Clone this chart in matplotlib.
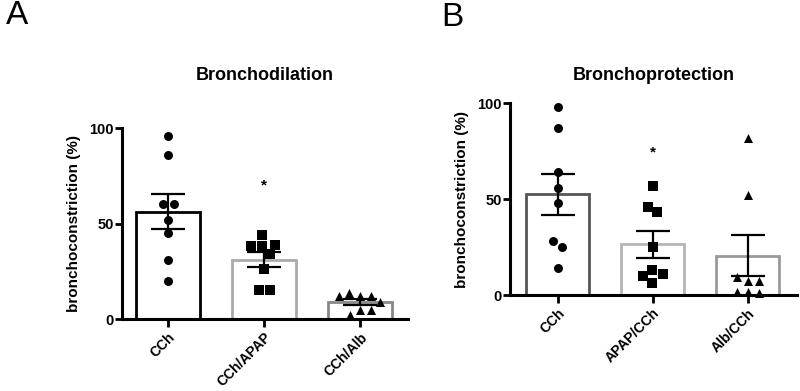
import numpy as np
import matplotlib
matplotlib.use('Agg')
import matplotlib.pyplot as plt

plt.rcParams['font.family'] = ['Liberation Sans', 'DejaVu Sans']
plt.rcParams['font.weight'] = 'bold'

# Panel A - Bronchodilation
groups_a = ['CCh', 'CCh/APAP', 'CCh/Alb']
cch_a = [96, 86, 60, 60, 52, 45, 31, 20]
apap_a = [44, 38, 34, 38, 39, 26, 15, 15]
alb_a = [12, 12, 13.5, 12, 9, 5, 5, 2]

# Panel B - Bronchoprotection
groups_b = ['CCh', 'APAP/CCh', 'Alb/CCh']
cch_b = [98, 87, 64, 56, 48, 28, 25, 14]
apap_b = [57, 46, 43, 25, 13, 11, 10, 6]
alb_b = [82, 52, 7.5, 7.5, 9.5, 1.7, 1.2, 1.7]

# height of the significance star over the APAP group
star_a = 70
star_b = 74


def swarm(ax, xc, vals, d=11):
    # simple beeswarm in pixel space, returns data x positions
    pts = ax.transData.transform(np.column_stack([np.full(len(vals), xc), vals]))
    x0 = pts[0, 0]
    placed = []
    for px, py in pts:
        cands = [0.0]
        for qx, qy in placed:
            dy = abs(py - qy)
            if dy < d:
                dx = np.sqrt(d * d - dy * dy)
                cands += [qx + dx, qx - dx]
        cands.sort(key=abs)
        for c in cands:
            if all((c - qx) ** 2 + (py - qy) ** 2 >= d * d - 1e-6 for qx, qy in placed):
                placed.append((c, py))
                break
    ys = np.array([p[1] for p in placed])
    inv = ax.transData.inverted()
    out = np.array([inv.transform((x0 + c, py))[0] for c, py in placed])
    # shift overlapping clusters so they sit around the centre
    order = np.argsort(ys)
    cl = [[order[0]]]
    for k in order[1:]:
        if ys[k] - ys[cl[-1][-1]] < d:
            cl[-1].append(k)
        else:
            cl.append([k])
    for c in cl:
        if len(c) > 1:
            out[c] -= np.mean(out[c]) - xc
    return out


def panel(ax, groups, data, markers, edges, title, star, xr):
    x = np.arange(len(groups))
    means = [np.mean(v) for v in data]
    sems = [np.std(v, ddof=1) / np.sqrt(len(v)) for v in data]
    ax.set_xlim(*xr)
    ax.set_ylim(0, 100)
    ax.bar(x, means, width=0.66, color='white', edgecolor=edges, linewidth=2.0, zorder=1)
    for i, v in enumerate(data):
        xs = swarm(ax, x[i], v)
        ax.scatter(xs, v, marker=markers[i], s=42, color='black', zorder=3,
                   clip_on=False, linewidths=0)
    ax.errorbar(x, means, yerr=sems, fmt='none', ecolor='black', elinewidth=1.6,
                capsize=12, capthick=1.6, zorder=4)
    ax.text(x[1], star, '*', ha='center', va='center', fontsize=11, fontweight='bold')
    for s in ['top', 'right']:
        ax.spines[s].set_visible(False)
    for s in ['left', 'bottom']:
        ax.spines[s].set_linewidth(2.2)
    ax.set_yticks([0, 50, 100])
    ax.set_xticks(x)
    ax.set_xticklabels(groups, rotation=45, ha='right', rotation_mode='anchor',
                       fontsize=10, fontweight='bold')
    ax.tick_params(axis='y', width=2, length=5, labelsize=10.5, pad=1)
    ax.tick_params(axis='x', width=2, length=6, pad=2)
    ax.set_ylabel('bronchoconstriction (%)', fontsize=11, fontweight='bold', labelpad=6)
    ax.figure.text(ax.get_position().x0 + ax.get_position().width / 2, 0.806, title,
                   ha='center', va='center', fontsize=13, fontweight='bold')


fig = plt.figure(figsize=(8, 3.91), dpi=100)
ax1 = fig.add_axes([0.1525, 0.184, 0.3575, 0.4885])
ax2 = fig.add_axes([0.6375, 0.2455, 0.359, 0.491])

panel(ax1, groups_a, [cch_a, apap_a, alb_a], ['o', 's', '^'],
      ['black', '#aaaaaa', '#888888'], 'Bronchodilation', star_a, (-0.48, 2.5))
panel(ax2, groups_b, [cch_b, apap_b, alb_b], ['o', 's', '^'],
      ['#555555', '#b5b5b5', '#999999'], 'Bronchoprotection', star_b, (-0.5, 2.52))

fig.text(0.008, 0.96, 'A', fontsize=24, fontweight='normal', va='center', ha='left')
fig.text(0.552, 0.955, 'B', fontsize=24, fontweight='normal', va='center', ha='left')

fig.savefig('out.png', dpi=100)
